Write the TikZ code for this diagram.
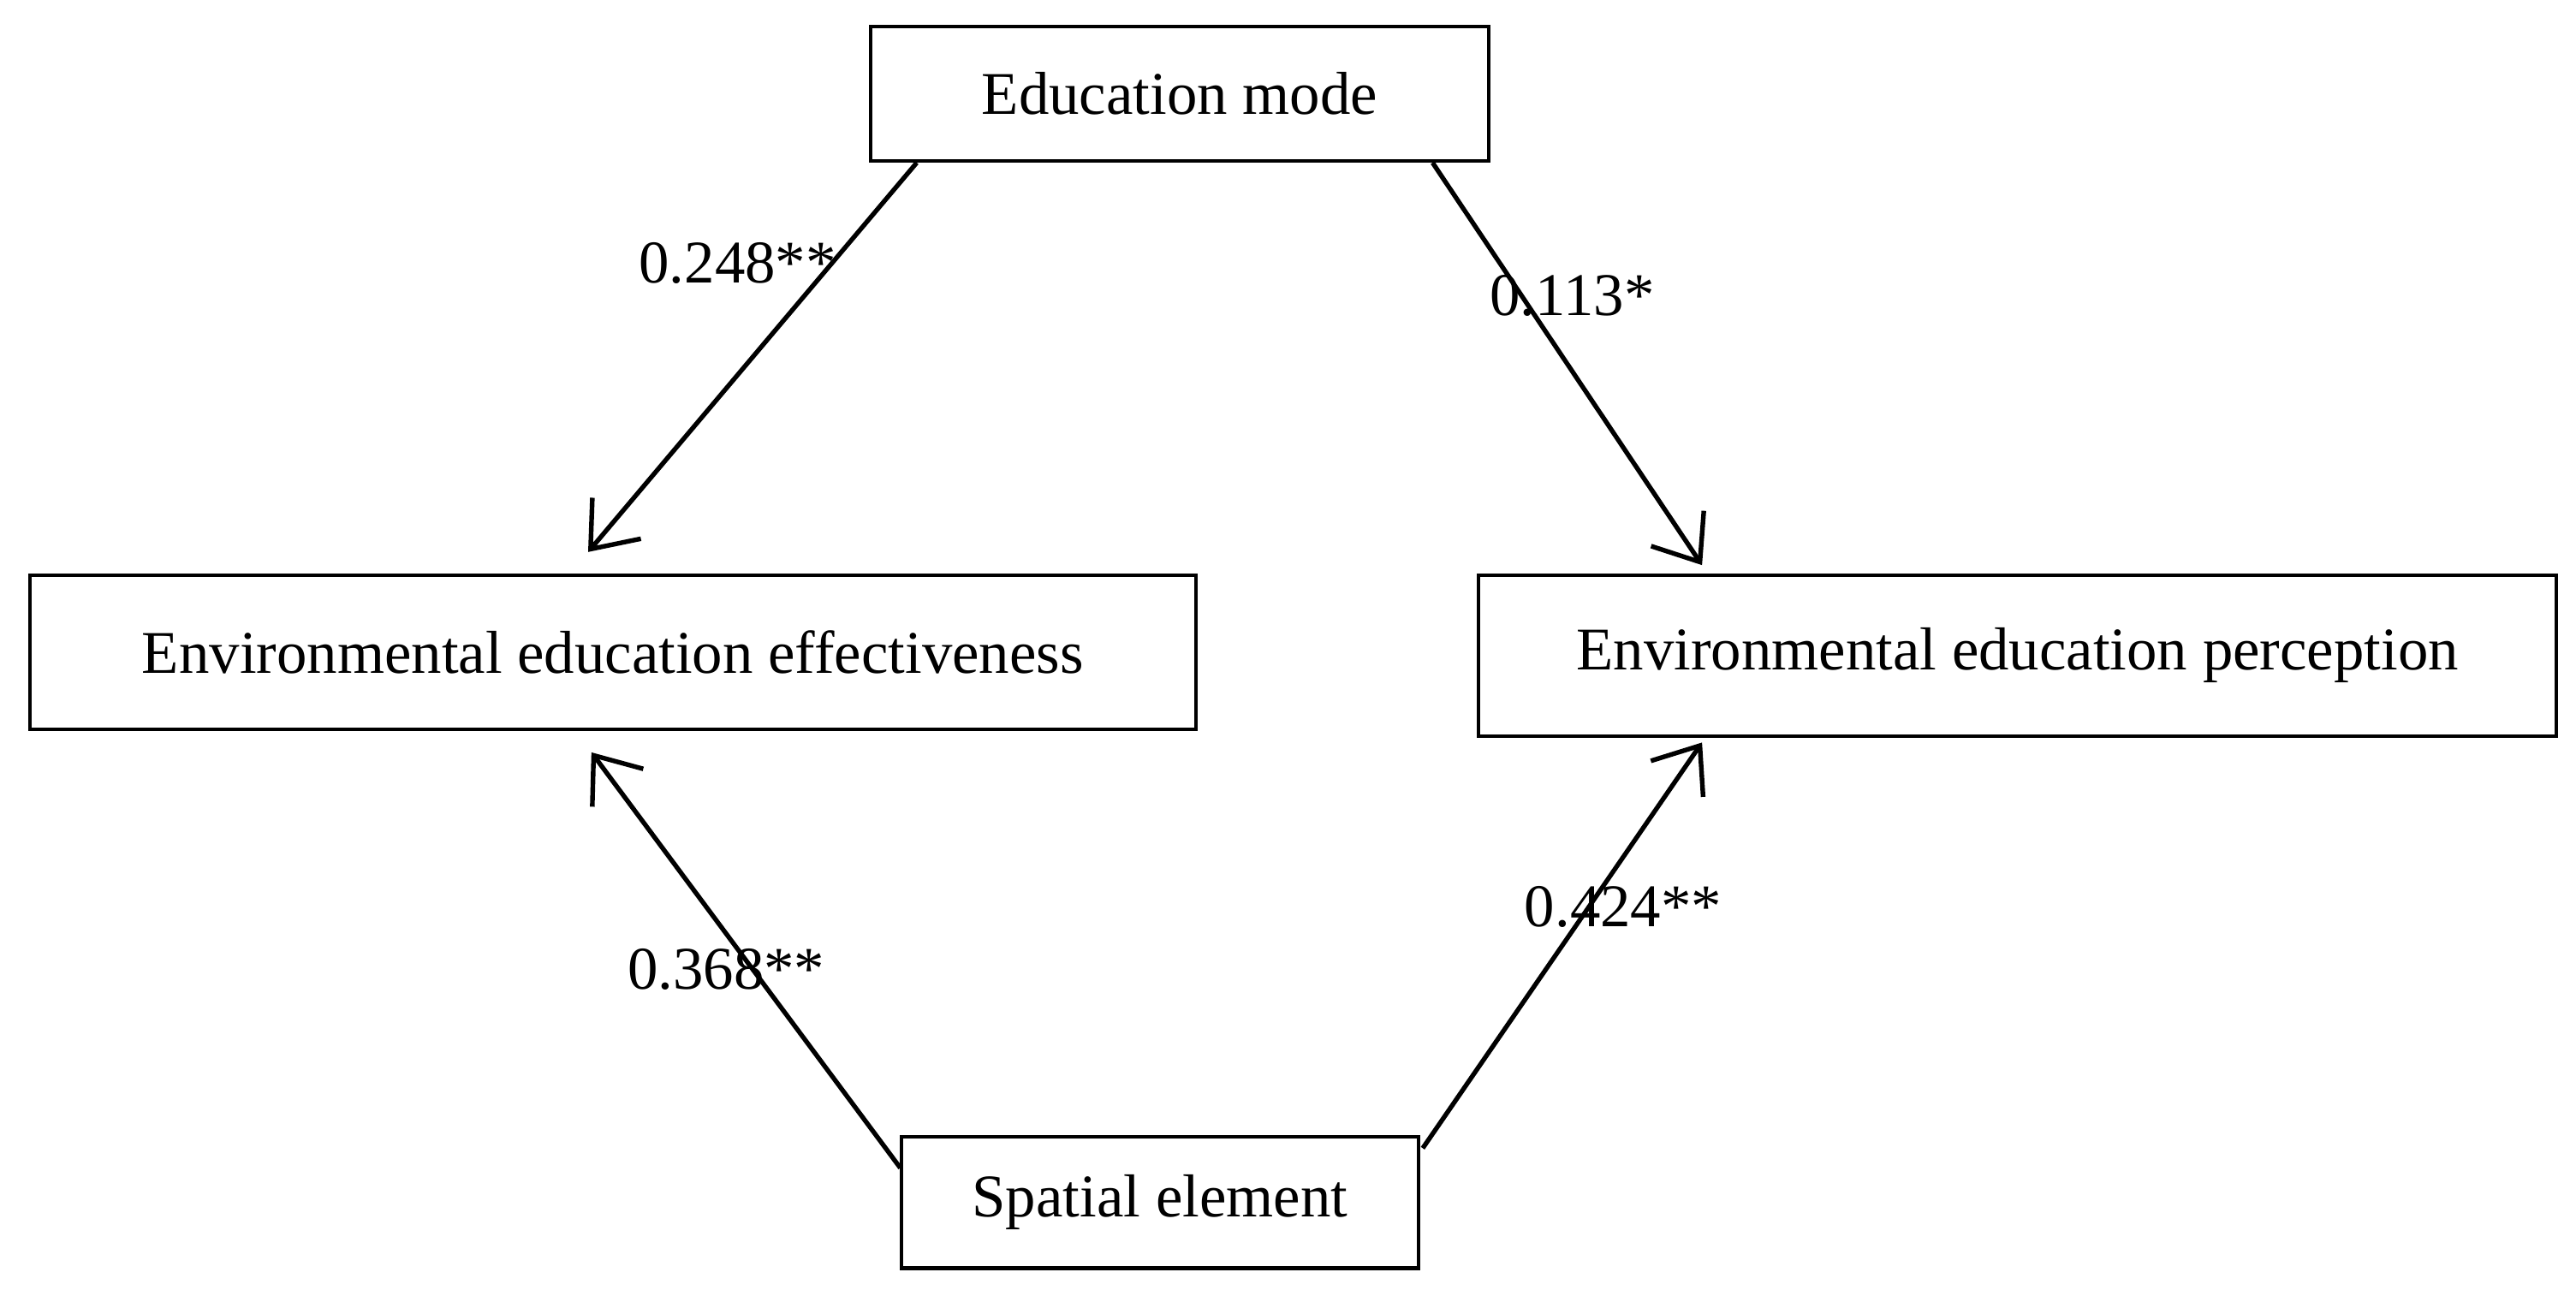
\documentclass[tikz,border=0pt]{standalone}
\usepackage{fontspec}
\setmainfont{Liberation Serif}
\begin{document}
\begin{tikzpicture}[x=0.02cm,y=-0.02cm,
  box/.style={draw,line width=1.2pt,minimum height=1.66cm,inner sep=0pt,font=\fontsize{21}{25}\selectfont},
  lbl/.style={font=\fontsize{21}{25}\selectfont,inner sep=0pt},
  arr/.style={->,line width=1.6pt,>={Straight Barb[length=14pt,width=22pt]}}]
\useasboundingbox (0,0) rectangle (1568,796);
\usetikzlibrary{arrows.meta}
\node[box,minimum width=7.52cm,minimum height=1.64cm] (em) at (718,57) {Education mode};
\node[box,minimum width=14.2cm,minimum height=1.88cm] (eff) at (373,397) {Environmental education effectiveness};
\node[box,minimum width=13.12cm,minimum height=1.96cm] (per) at (1228,399) {Environmental education perception};
\node[box,minimum width=6.3cm,minimum height=1.6cm] (sp) at (706,732) {Spatial element};
\coordinate (a1) at (358,336);
\coordinate (a2) at (1036,344);
\coordinate (a3) at (360,458);
\coordinate (a4) at (1036,452);
\draw[arr] (em.south west -| 558,0) -- (a1);
\draw[arr] (em.south east -| 872,0) -- (a2);
\draw[arr] (sp.north west -| 548,0) ++(0,20) -- (a3);
\draw[arr] (sp.north east -| 866,0) ++(0,8) -- (a4);
\node[lbl] (l1) at (449,160) {0.248**};
\node[lbl] (l2) at (957,180) {0.113*};
\node[lbl] (l3) at (442,590) {0.368**};
\node[lbl] (l4) at (988,552) {0.424**};
\end{tikzpicture}
\end{document}
